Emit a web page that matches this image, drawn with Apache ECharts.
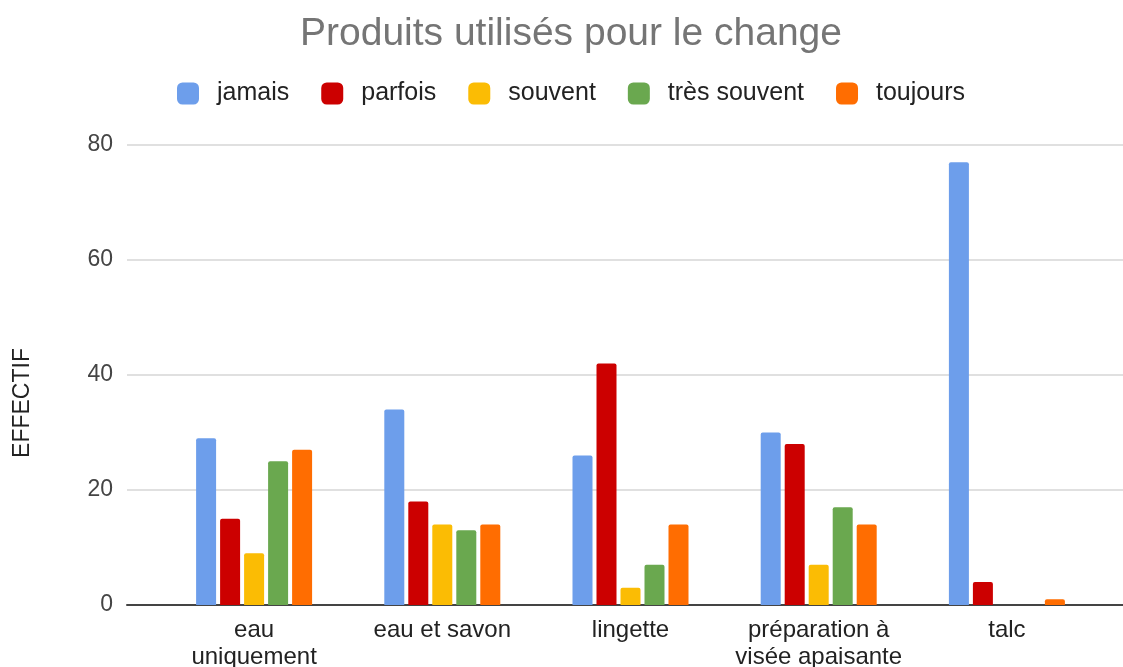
<!DOCTYPE html>
<html>
<head>
<meta charset="utf-8">
<script src="https://cdn.jsdelivr.net/npm/echarts@6/dist/echarts.min.js"></script>
<style>
  html, body { margin: 0; padding: 0; background: #fff; }
  #chart { width: 1123px; height: 667px; }
</style>
</head>
<body>
<div id="chart"></div>
<script>
var categories = ['eau\nuniquement', 'eau et savon', 'lingette', 'préparation à\nvisée apaisante', 'talc'];
var seriesNames = ['jamais', 'parfois', 'souvent', 'très souvent', 'toujours'];
var jamais = [29, 34, 26, 30, 77];
var parfois = [15, 18, 42, 28, 4];
var souvent = [9, 14, 3, 7, 0];
var tresSouvent = [25, 13, 7, 17, 0];
var toujours = [27, 14, 14, 14, 1];
var colors = ['#6d9eeb', '#cc0000', '#fbbc04', '#6aa84f', '#ff6d01'];

(function () {
    var font = '"Liberation Sans", Arial, sans-serif';
    var chart = echarts.init(document.getElementById('chart'));
    var values = [jamais, parfois, souvent, tresSouvent, toujours];

    var series = seriesNames.map(function (name, i) {
        return {
            name: name,
            type: 'bar',
            xAxisIndex: 0,
            yAxisIndex: 0,
            data: values[i],
            barWidth: 20,
            barGap: '20%',
            itemStyle: { color: colors[i], borderRadius: [2, 2, 0, 0] }
        };
    });

    var option = {
        animation: false,
        color: colors,
        title: {
            text: 'Produits utilisés pour le change',
            left: 571,
            top: 15,
            padding: 0,
            textAlign: 'center',
            textStyle: { fontFamily: font, fontSize: 39, fontWeight: 'normal', color: '#757575' }
        },
        legend: {
            data: seriesNames,
            left: 177,
            top: 81,
            padding: 0,
            itemWidth: 22,
            itemHeight: 22,
            itemGap: 32,
            icon: 'roundRect',
            textStyle: { fontFamily: font, fontSize: 25, color: '#222', padding: [0, 0, 0, 13] }
        },
        graphic: [{
            type: 'text',
            x: 23,
            y: 403,
            rotation: Math.PI / 2,
            style: {
                text: 'EFFECTIF',
                fontFamily: font,
                fontSize: 23,
                fill: '#222',
                align: 'center',
                verticalAlign: 'middle'
            }
        }],
        grid: [
            { left: 160, right: 22, top: 145, bottom: 62, outerBoundsMode: 'none', containLabel: false },
            { left: 127, right: 0, top: 145, bottom: 62, outerBoundsMode: 'none', containLabel: false }
        ],
        xAxis: [
            {
                type: 'category',
                gridIndex: 0,
                data: categories,
                axisLine: { show: false },
                axisTick: { show: false },
                axisLabel: { interval: 0, fontFamily: font, fontSize: 24, color: '#222', margin: 12, lineHeight: 27 }
            },
            {
                type: 'value',
                gridIndex: 1,
                min: 0,
                max: 1,
                axisLine: { show: true, lineStyle: { color: '#444', width: 2 } },
                axisTick: { show: false },
                axisLabel: { show: false },
                splitLine: { show: false }
            }
        ],
        yAxis: [
            {
                type: 'value',
                gridIndex: 0,
                min: 0,
                max: 80,
                interval: 20,
                axisLine: { show: false },
                axisTick: { show: false },
                axisLabel: { show: false },
                splitLine: { show: false }
            },
            {
                type: 'value',
                gridIndex: 1,
                min: 0,
                max: 80,
                interval: 20,
                axisLine: { show: false },
                axisTick: { show: false },
                axisLabel: { fontFamily: font, fontSize: 23, color: '#444', margin: 14 },
                splitLine: { lineStyle: { color: '#d6d6d6', width: 1.5 } }
            }
        ],
        series: series
    };

    option && chart.setOption(option);
})();
</script>
</body>
</html>
